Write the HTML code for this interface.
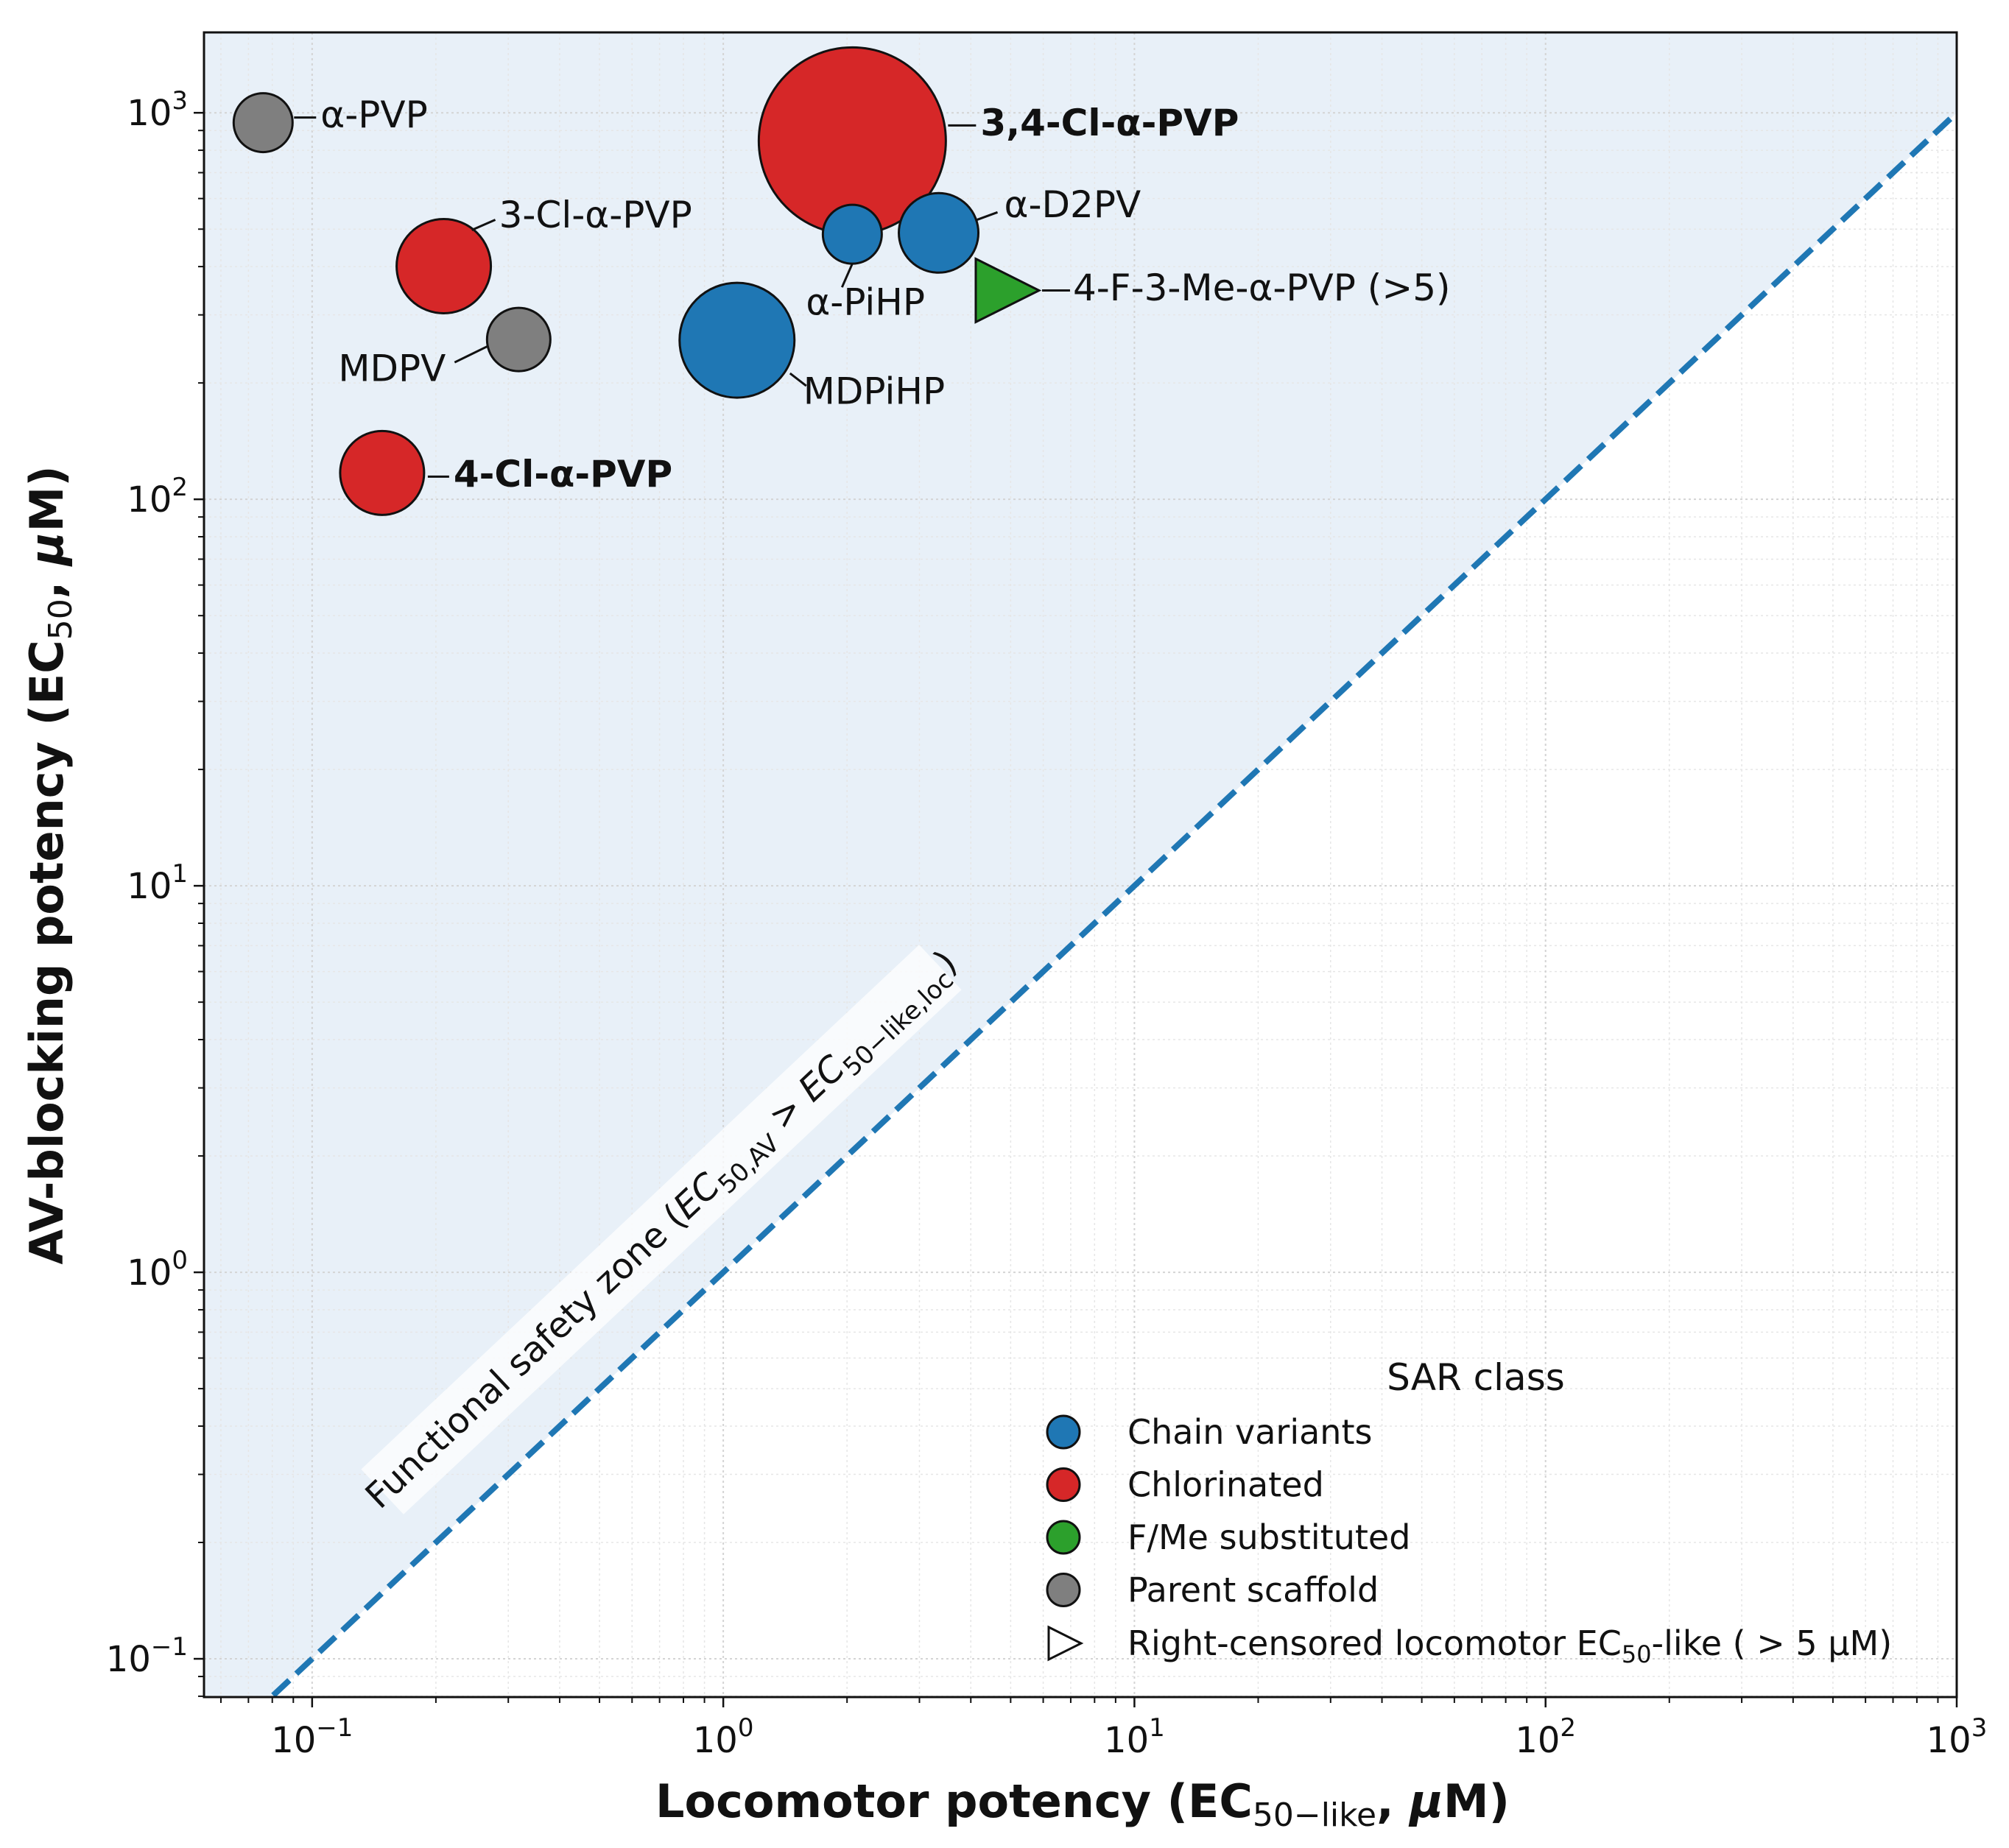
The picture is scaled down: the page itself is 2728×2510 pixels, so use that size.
<!DOCTYPE html>
<html><head><meta charset="utf-8"><style>
html,body{margin:0;padding:0;background:#fff;}
svg{display:block;font-family:"DejaVu Sans","Liberation Sans",sans-serif;}
</style></head><body>
<svg id="chart" width="2728" height="2510" viewBox="0 0 2728 2510" xmlns="http://www.w3.org/2000/svg">
<defs><clipPath id="clip"><rect x="277" y="44" width="2380" height="2261"/></clipPath></defs>
<g id="grid" clip-path="url(#clip)"></g>
<g id="marks" clip-path="url(#clip)"></g>
<g id="labels"></g>
<g id="axes"></g>
</svg>
<script>
const names = ["α-PVP","3,4-Cl-α-PVP","α-D2PV","α-PiHP","4-F-3-Me-α-PVP (>5)","3-Cl-α-PVP","MDPV","MDPiHP","4-Cl-α-PVP"];
const locEC50 = [0.076, 2.06, 3.34, 2.06, 4.85, 0.209, 0.318, 1.08, 0.148];
const avEC50 = [943, 846, 489, 485, 347, 401, 259, 258, 117];
const classes = ["parent","chlor","chain","chain","fme","chlor","parent","chain","chlor"];
const radii = [40, 127, 54, 40, 0, 64, 43, 78, 57];
const xTickExps = [-1, 0, 1, 2, 3];
const yTickExps = [-1, 0, 1, 2, 3];
const legendLabels = ["Chain variants","Chlorinated","F/Me substituted","Parent scaffold"];

const colors = {chain:"#1f77b4", chlor:"#d62728", fme:"#2ca02c", parent:"#7f7f7f"};
const L=277,R=2657,T=44,B=2305;
const xMin=-1.263,xMax=3.0,yMin=-1.099,yMax=3.208;
const X=v=>L+(Math.log10(v)-xMin)/(xMax-xMin)*(R-L);
const Y=v=>B-(Math.log10(v)-yMin)/(yMax-yMin)*(B-T);
const NS="http://www.w3.org/2000/svg";
function mk(tag,attrs,parent,text){const e=document.createElementNS(NS,tag);for(const k in attrs)e.setAttribute(k,attrs[k]);if(text!==undefined)e.textContent=text;parent.appendChild(e);return e;}
const grid=document.getElementById('grid'),marks=document.getElementById('marks'),labels=document.getElementById('labels'),axes=document.getElementById('axes');

const lo=Math.pow(10,xMin), hi=1000;
const zone=mk('polygon',{points:`${X(lo)},${Y(lo)} ${X(hi)},${Y(hi)} ${R},${T} ${L},${T}`,fill:"#e8f0f8"},grid);


for(let e=-2;e<=3;e++){for(let m=1;m<10;m++){const v=m*Math.pow(10,e);
 if(Math.log10(v)>=xMin&&Math.log10(v)<=xMax){mk('line',{x1:X(v),x2:X(v),y1:T,y2:B,stroke:m==1?"#d4d4d4":"#e6e6e6","stroke-width":m==1?2:1.5,"stroke-dasharray":"3,4"},grid);}
 if(Math.log10(v)>=yMin&&Math.log10(v)<=yMax){mk('line',{y1:Y(v),y2:Y(v),x1:L,x2:R,stroke:m==1?"#d4d4d4":"#e6e6e6","stroke-width":m==1?2:1.5,"stroke-dasharray":"3,4"},grid);}
}}
const diag=mk('line',{x1:X(lo),y1:Y(lo),x2:X(hi),y2:Y(hi),stroke:"#1f77b4","stroke-width":8,"stroke-dasharray":"30,13"},marks);


names.forEach((n,i)=>{const cx=X(locEC50[i]),cy=Y(avEC50[i]);let el;
 if(classes[i]==="fme"){el=mk('polygon',{points:`${cx-40},${cy-43} ${cx+46},${cy} ${cx-40},${cy+43}`,fill:colors.fme,stroke:"#111","stroke-width":3},marks);}
 else{el=mk('circle',{cx:cx,cy:cy,r:radii[i],fill:colors[classes[i]],stroke:"#111","stroke-width":3},marks);}
 
 
});
// [dx,dy,anchor,bold,leader x1,y1,x2,y2 relative]
const lab=[[78,-7,"start",0,42,-7,72,-7],[174,-21,"start",1,130,-21,168,-21],[89,-35,"start",0,50,-17,80,-28],[-63,96,"start",0,0,40,-14,72],[92,0,"start",0,50,0,88,0],[75,-66,"start",0,38,-49,70,-63],[-99,43,"end",0,-42,9,-87,31],[90,73,"start",0,72,45,94,62],[97,5,"start",1,62,5,91,5]];
names.forEach((n,i)=>{const cx=X(locEC50[i]),cy=Y(avEC50[i]),l=lab[i];
 mk('line',{x1:cx+l[4],y1:cy+l[5],x2:cx+l[6],y2:cy+l[7],stroke:"#111","stroke-width":3},labels);
 const t=mk('text',{x:cx+l[0],y:cy+l[1],"font-size":50,"font-weight":l[3]?"bold":"normal","text-anchor":l[2],"dominant-baseline":"middle",fill:"#111"},labels,n);
 
 
});
const ang=-Math.atan((Y(1)-Y(10))/(X(10)-X(1)))*180/Math.PI;
const zg=mk('g',{transform:`translate(898,1670) rotate(${ang})`},labels);


mk('rect',{x:-520,y:-42,width:1040,height:84,fill:"#fff","fill-opacity":0.75},zg);
const zt=mk('text',{x:0,y:16,"font-size":48,"text-anchor":"middle",fill:"#111"},zg);
zt.innerHTML='Functional safety zone (<tspan font-style="italic">EC</tspan><tspan font-size="34" dy="12">50,AV</tspan><tspan dy="-12"> &gt; </tspan><tspan font-style="italic">EC</tspan><tspan font-size="34" dy="12">50−like,loc</tspan><tspan dy="-12">)</tspan>';
mk('rect',{x:L,y:T,width:R-L,height:B-T,fill:"none",stroke:"#111","stroke-width":3},axes);
xTickExps.forEach(e=>{const x=X(Math.pow(10,e));mk('line',{x1:x,x2:x,y1:B,y2:B+14,stroke:"#111","stroke-width":2.5},axes);
 const t=mk('text',{x:x,y:B+75,"font-size":48,"text-anchor":"middle",fill:"#111"},axes);t.innerHTML=`10<tspan font-size="34" dy="-22">${e<0?'−':''}${Math.abs(e)}</tspan>`;
 
 });
yTickExps.forEach(e=>{const y=Y(Math.pow(10,e));mk('line',{x1:L-14,x2:L,y1:y,y2:y,stroke:"#111","stroke-width":2.5},axes);
 const t=mk('text',{x:L-22,y:y+17,"font-size":48,"text-anchor":"end",fill:"#111"},axes);t.innerHTML=`10<tspan font-size="34" dy="-22">${e<0?'−':''}${Math.abs(e)}</tspan>`;
 
 });
for(let e=-2;e<=3;e++)for(let m=2;m<10;m++){const v=m*Math.pow(10,e);
 if(Math.log10(v)>xMin&&Math.log10(v)<xMax){const x=X(v);mk('line',{x1:x,x2:x,y1:B,y2:B+8,stroke:"#111","stroke-width":2},axes);}
 if(Math.log10(v)>yMin&&Math.log10(v)<yMax){const y=Y(v);mk('line',{x1:L-8,x2:L,y1:y,y2:y,stroke:"#111","stroke-width":2},axes);}}
const xt=mk('text',{x:1470,y:2468,"font-size":62,"font-weight":"bold","text-anchor":"middle",fill:"#111"},axes);
xt.innerHTML='Locomotor potency (EC<tspan font-size="44" font-weight="normal" dy="12">50−like</tspan><tspan dy="-12">, </tspan><tspan font-style="italic">μ</tspan>M)';


const yt=mk('text',{x:0,y:0,"font-size":62,"font-weight":"bold","text-anchor":"middle",fill:"#111",transform:"translate(85,1175) rotate(-90)"},axes);
yt.innerHTML='AV-blocking potency (EC<tspan font-size="44" font-weight="normal" dy="12">50</tspan><tspan dy="-12">, </tspan><tspan font-style="italic">μ</tspan>M)';


const lg=mk('g',{},axes);


mk('text',{x:2004,y:1888,"font-size":50,"text-anchor":"middle",fill:"#111"},lg,"SAR class");
const legCols=[colors.chain,colors.chlor,colors.fme,colors.parent];
legendLabels.forEach((s,i)=>{const y=1945+i*71.5;
 const c=mk('circle',{cx:1444,cy:y,r:22,fill:legCols[i],stroke:"#111","stroke-width":3},lg);
 
 
 const t=mk('text',{x:1531,y:y+16,"font-size":46,fill:"#111"},lg,s);
 
 });
const ty=2232;
mk('polygon',{points:`1424,${ty-22} 1468,${ty} 1424,${ty+22}`,fill:"#fff",stroke:"#111","stroke-width":3},lg);
const lt=mk('text',{x:1531,y:ty+16,"font-size":46,fill:"#111"},lg);
lt.innerHTML='Right-censored locomotor EC<tspan font-size="32" dy="10">50</tspan><tspan dy="-10">-like ( &gt; 5 μM)</tspan>';


</script>
</body></html>
